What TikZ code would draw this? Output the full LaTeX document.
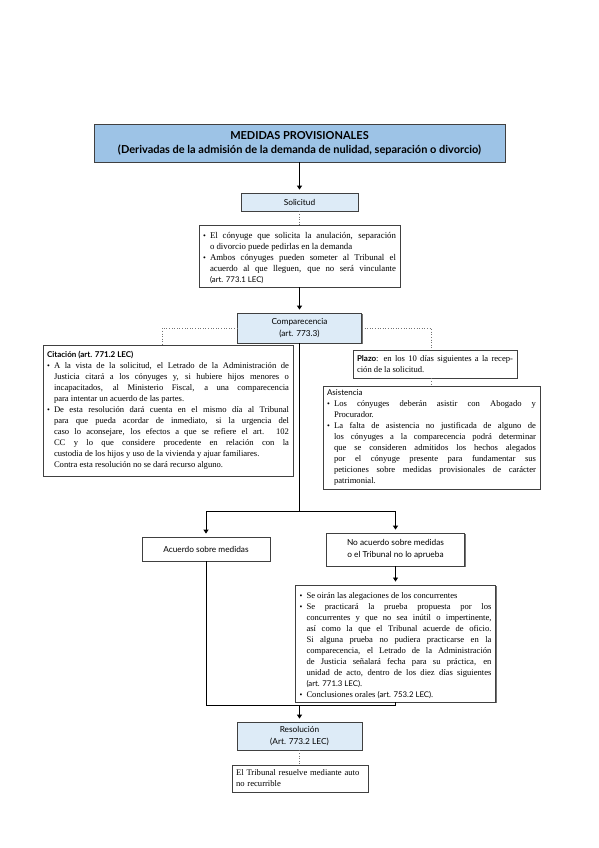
\documentclass[tikz,border=0pt]{standalone}
\usepackage{fontspec}
\setmainfont{Liberation Serif}
\newfontfamily\hfont{Lato}
\usetikzlibrary{arrows.meta,shadows,calc}
\definecolor{titlebl}{HTML}{9DC3E6}
\definecolor{lightbl}{HTML}{DDEBF7}
\definecolor{bord}{HTML}{404040}
\setlength{\parindent}{0pt}
\tolerance=9999
\hbadness=10000
\hfuzz=20pt
\hyphenpenalty=10000
\newcommand{\bit}{\par\noindent\hangindent=7pt\hangafter=1\makebox[7pt][l]{\raisebox{0.3pt}{\fontsize{8}{8}\selectfont\textbullet}}}
\newcommand{\sref}[1]{{\hfont\fontsize{7.8}{11}\selectfont #1}}
\tikzset{
  box/.style={draw=bord, line width=0.8pt, fill=white, inner sep=0pt,
    drop shadow={shadow xshift=1.2pt, shadow yshift=-1.2pt, fill=black!55, opacity=1}},
  hbox/.style={box, fill=lightbl, font=\hfont\fontsize{8.3}{12}\selectfont, align=center},
  tbox/.style={box, inner xsep=4pt, inner ysep=3pt, font=\fontsize{8.6}{11}\selectfont, align=justify},
  arr/.style={draw=black, line width=0.8pt, -{Triangle[length=4pt,width=5pt]}, shorten >=3pt},
  ln/.style={draw=black, line width=0.8pt},
  dotln/.style={draw=black!55, line width=0.6pt, dotted}
}
\begin{document}
\begin{tikzpicture}[x=1pt,y=-1pt]
\useasboundingbox[fill=white] (0,0) rectangle (599,848);

\node[box, fill=titlebl, minimum width=411pt, minimum height=38pt, align=center,
  font=\hfont\bfseries\fontsize{11}{14}\selectfont] (title) at (299.5,143)
  {MEDIDAS PROVISIONALES\\(Derivadas de la admisión de la demanda de nulidad, separación o divorcio)};

\node[hbox, minimum width=117pt, minimum height=18pt] (sol) at (299.5,202) {Solicitud};

\node[tbox, text width=193pt, minimum height=62pt, font=\fontsize{8.8}{11}\selectfont] (b1) at (299.5,256)
{\bit El cónyuge que solicita la anulación, separación\linebreak o divorcio puede pedirlas en la demanda
 \bit Ambos cónyuges pueden someter al Tribunal el\linebreak acuerdo al que lleguen, que no será vinculante\linebreak \sref{(art. 773.1 LEC)}\par};

\node[hbox, minimum width=124pt, minimum height=30pt] (comp) at (299.5,328) {Comparecencia\\(art. 773.3)};

\node[tbox, text width=242pt, minimum height=131pt] (cit) at (168,410.5)
{{\hfont\bfseries\fontsize{8}{11}\selectfont Citación (art. 771.2 LEC)}
 \bit A la vista de la solicitud, el Letrado de la Administración de\linebreak
 Justicia citará a los cónyuges y, si hubiere hijos menores o\linebreak
 incapacitados, al Ministerio Fiscal, a una comparecencia\linebreak
 para intentar un acuerdo de las partes.
 \bit De esta resolución dará cuenta en el mismo día al Tribunal\linebreak
 para que pueda acordar de inmediato, si la urgencia del\linebreak
 caso lo aconsejare, los efectos a que se refiere el art. 102\linebreak
 CC y lo que considere procedente en relación con la\linebreak
 custodia de los hijos y uso de la vivienda y ajuar familiares.\newline
 Contra esta resolución no se dará recurso alguno.\par};

\node[tbox, text width=156pt, minimum height=28pt] (plz) at (435,364)
{{\hfont\bfseries\fontsize{8}{11}\selectfont Plazo}: en los 10 días siguientes a la recep-\linebreak ción de la solicitud.\par};

\node[tbox, text width=209pt, minimum height=103pt] (asi) at (431.5,437.5)
{{\hfont\fontsize{8}{11}\selectfont Asistencia}
 \bit Los cónyuges deberán asistir con Abogado y\linebreak Procurador.
 \bit La falta de asistencia no justificada de alguno de\linebreak
 los cónyuges a la comparecencia podrá determinar\linebreak
 que se consideren admitidos los hechos alegados\linebreak
 por el cónyuge presente para fundamentar sus\linebreak
 peticiones sobre medidas provisionales de carácter\linebreak
 patrimonial.\par};

\coordinate (br) at (299.5,511);
\coordinate (jn) at (299.5,705);

\node[box, minimum width=128pt, minimum height=24pt, font=\hfont\fontsize{8.3}{12}\selectfont] (acu) at (206,549)
  {Acuerdo sobre medidas};
\node[box, minimum width=138pt, minimum height=33pt, align=center, font=\hfont\fontsize{8.3}{12}\selectfont] (noa) at (395.5,549.5)
  {No acuerdo sobre medidas\\o el Tribunal no lo aprueba};

\node[tbox, text width=192pt, minimum height=113pt] (det) at (395.5,643.5)
{\bit Se oirán las alegaciones de los concurrentes
 \bit Se practicará la prueba propuesta por los\linebreak
 concurrentes y que no sea inútil o impertinente,\linebreak
 así como la que el Tribunal acuerde de oficio.\linebreak
 Si alguna prueba no pudiera practicarse en la\linebreak
 comparecencia, el Letrado de la Administración\linebreak
 de Justicia señalará fecha para su práctica, en\linebreak
 unidad de acto, dentro de los diez días siguientes\linebreak
 \sref{(art. 771.3 LEC)}.
 \bit Conclusiones orales \sref{(art. 753.2 LEC)}.\par};

\node[hbox, minimum width=125pt, minimum height=28pt] (res) at (299.5,736) {Resolución\\(Art. 773.2 LEC)};

\node[tbox, text width=128pt, minimum height=27pt, align=left] (fin) at (300,778.5)
  {El Tribunal resuelve mediante auto\\no recurrible};

\draw[arr] (title.south) -- (sol.north);
\draw[dotln] (sol.south) -- (b1.north);
\draw[arr] (b1.south) -- (comp.north);
\draw[dotln] (comp.west) -| ([xshift=-6pt]cit.north);
\draw[dotln] (comp.east) -| ([xshift=-4pt]plz.north);
\draw[dotln] ([xshift=-4pt]plz.south) -- ([xshift=-4pt]plz.south |- asi.north);
\draw[ln] (comp.south) -- (br);
\draw[arr] (br) -| (acu.north);
\draw[arr] (br) -| (noa.north);
\draw[arr] (noa.south) -- (det.north);
\draw[ln] (acu.south) |- (jn);
\draw[ln] (det.south) |- (jn);
\draw[arr] (jn) -- (res.north);
\draw[dotln] (res.south) -- (res.south |- fin.north);
\end{tikzpicture}
\end{document}
